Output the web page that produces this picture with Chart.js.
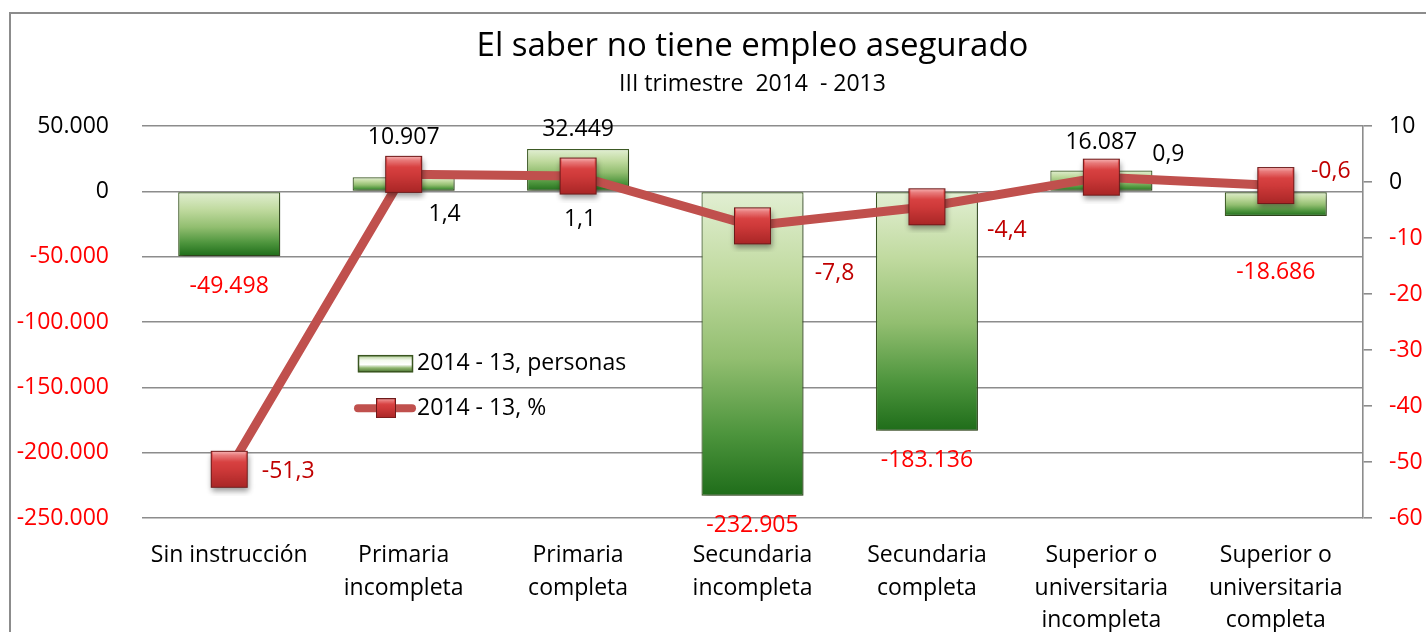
<!DOCTYPE html>
<html><head><meta charset="utf-8">
<script src="https://cdn.jsdelivr.net/npm/chart.js@4/dist/chart.umd.min.js"></script>
<style>html,body{margin:0;padding:0;background:#fff;overflow:hidden}
#wrap{position:relative;width:1426px;height:632px;background:#fff}
</style></head><body><div id="wrap"><canvas id="c" width="1426" height="632"></canvas></div>
<script>
const titleText = "El saber no tiene empleo asegurado";
const subtitleText = "III trimestre  2014  - 2013";
const categories = [["Sin instrucción"],["Primaria","incompleta"],["Primaria","completa"],["Secundaria","incompleta"],["Secundaria","completa"],["Superior o","universitaria","incompleta"],["Superior o","universitaria","completa"]];
const personas = [-49498, 10907, 32449, -232905, -183136, 16087, -18686];
const porcentaje = [-51.3, 1.4, 1.1, -7.8, -4.4, 0.9, -0.6];
const leftTicks = [50000, 0, -50000, -100000, -150000, -200000, -250000];
const rightTicks = [10, 0, -10, -20, -30, -40, -50, -60];
const seriesNames = ["2014 - 13, personas", "2014 - 13, %"];

const FONT = "'Open Sans', sans-serif";
function fmtThousands(v){
  const s = Math.abs(Math.round(v)).toString().replace(/\B(?=(\d{3})+(?!\d))/g, ".");
  return (v < 0 ? "-" : "") + s;
}
function fmtPct(v){ return v.toFixed(1).replace(".", ","); }

function makeMarker(side, pad){
  const c = document.createElement('canvas');
  c.width = side + pad*2; c.height = side + pad*2;
  const g = c.getContext('2d');
  const x = pad, y = pad;
  g.save();
  g.shadowColor = 'rgba(0,0,0,0.4)'; g.shadowBlur = pad*0.7; g.shadowOffsetX = 1; g.shadowOffsetY = pad*0.45;
  g.fillStyle = '#b83030'; g.fillRect(x, y, side, side);
  g.restore();
  const gr = g.createLinearGradient(0, y, 0, y+side);
  gr.addColorStop(0, '#f27a7a'); gr.addColorStop(0.12, '#e04848'); gr.addColorStop(0.5, '#cf3a3a'); gr.addColorStop(1, '#a82626');
  g.fillStyle = gr; g.fillRect(x, y, side, side);
  const hl = g.createLinearGradient(0, y, 0, y+side*0.3);
  hl.addColorStop(0, 'rgba(255,255,255,0.45)'); hl.addColorStop(1, 'rgba(255,255,255,0)');
  g.fillStyle = hl; g.fillRect(x+2, y+1, side-4, side*0.3);
  g.strokeStyle = '#6e1a1a'; g.lineWidth = 1; g.strokeRect(x+0.5, y+0.5, side-1, side-1);
  return c;
}
const markerBig = makeMarker(37, 8);
const markerSmall = makeMarker(20, 0);

const barLabelOffsets = {default:{above:20, below:30}, 1:{above:40}, 5:{above:28}, 6:{below:57}};
const lineLabelOffsets = [[59,2],[41,40],[2,43],[82,48],[80,24],[67,-23],[55,-14]];

const framePlugin = {
  id:'frame',
  beforeDraw(chart){
    const ctx = chart.ctx; ctx.save();
    ctx.fillStyle = '#fff'; ctx.fillRect(0,0,chart.width,chart.height);
    ctx.strokeStyle = '#8c8c8c'; ctx.lineWidth = 2;
    ctx.strokeRect(10, 13, 3000, 3000);
    ctx.restore();
  }
};
const shadowPlugin = {
  id:'barShadow',
  beforeDatasetDraw(chart, args){
    if (args.meta.type === 'bar'){
      const ctx = chart.ctx; ctx.save();
      ctx.shadowColor = 'rgba(0,0,0,0.35)'; ctx.shadowBlur = 5; ctx.shadowOffsetX = 2; ctx.shadowOffsetY = 3;
    }
  },
  afterDatasetDraw(chart, args){
    if (args.meta.type === 'bar') chart.ctx.restore();
  }
};
const labelsPlugin = {
  id:'valueLabels',
  afterDatasetsDraw(chart){
    const ctx = chart.ctx;
    ctx.save();
    ctx.font = "23px " + FONT;
    ctx.textAlign = 'center'; ctx.textBaseline = 'middle';
    const bm = chart.getDatasetMeta(1);
    bm.data.forEach((el, i) => {
      const v = personas[i];
      const o = Object.assign({}, barLabelOffsets.default, barLabelOffsets[i] || {});
      const y = v >= 0 ? el.y - o.above : el.y + o.below;
      ctx.fillStyle = v >= 0 ? '#000' : '#ff0000';
      ctx.fillText(fmtThousands(v), el.x, y);
    });
    const lm = chart.getDatasetMeta(0);
    lm.data.forEach((el, i) => {
      const v = porcentaje[i];
      const [dx, dy] = lineLabelOffsets[i];
      const t = fmtPct(v);
      const w = ctx.measureText(t).width;
      const x = el.x + dx, y = el.y + dy;
      ctx.fillStyle = '#fff';
      ctx.fillRect(x - w/2 - 8, y - 13, w + 16, 26);
      ctx.fillStyle = v >= 0 ? '#000' : '#c00000';
      ctx.fillText(t, x, y);
    });
    ctx.restore();
  }
};
const legendPlugin = {
  id:'innerLegend',
  afterDraw(chart){
    const ctx = chart.ctx, a = chart.chartArea;
    const x0 = a.left + 216, y0 = a.top + 229;
    ctx.save();
    const g = ctx.createLinearGradient(0, y0, 0, y0+17);
    g.addColorStop(0, '#a9c98c'); g.addColorStop(0.3, '#f4f9ee'); g.addColorStop(0.55, '#ffffff'); g.addColorStop(0.75, '#8fb56f'); g.addColorStop(1, '#4a7430');
    ctx.fillStyle = g; ctx.fillRect(x0, y0, 55, 17);
    ctx.strokeStyle = '#3a5520'; ctx.lineWidth = 1.5; ctx.strokeRect(x0+0.5, y0+0.5, 54, 16);
    const ly = y0 + 53;
    ctx.strokeStyle = '#c0504d'; ctx.lineWidth = 8; ctx.lineCap = 'round';
    ctx.beginPath(); ctx.moveTo(x0, ly); ctx.lineTo(x0 + 54, ly); ctx.stroke();
    ctx.drawImage(markerSmall, x0 + 28 - 10, ly - 10);
    ctx.font = "23px " + FONT; ctx.fillStyle = '#000'; ctx.textBaseline = 'middle'; ctx.textAlign = 'left';
    ctx.fillText(seriesNames[0], x0 + 59, y0 + 8);
    ctx.fillText(seriesNames[1], x0 + 59, ly);
    ctx.restore();
  }
};

Chart.defaults.font.family = FONT;
new Chart(document.getElementById('c'), {
  type:'bar',
  data:{
    labels: categories,
    datasets:[
      {
        type:'line', label: seriesNames[1], data: porcentaje, yAxisID:'y1', order:0,
        borderColor:'#c0504d', borderWidth:9, tension:0, fill:false,
        pointStyle: markerBig, pointRadius: 20, pointHoverRadius: 20,
        borderJoinStyle:'round', borderCapStyle:'round'
      },
      {
        type:'bar', label: seriesNames[0], data: personas, yAxisID:'y', order:1,
        categoryPercentage: 1, barPercentage: 0.585,
        borderColor:'#3e5c25', borderWidth:1.2, borderSkipped:false,
        backgroundColor: (c) => {
          const chart = c.chart, area = chart.chartArea;
          if (!area || c.type !== 'data' || !chart.scales.y) return '#7db35a';
          const y0 = chart.scales.y.getPixelForValue(0), y1 = chart.scales.y.getPixelForValue(c.raw);
          const top = Math.min(y0,y1), bot = Math.max(y0,y1);
          const g = chart.ctx.createLinearGradient(0, top, 0, bot);
          g.addColorStop(0, '#e2efd3'); g.addColorStop(0.28, '#c0da9f'); g.addColorStop(0.55, '#92be70'); g.addColorStop(0.8, '#4c943c'); g.addColorStop(1, '#1f6d1a');
          return g;
        }
      }
    ]
  },
  options:{
    responsive:false, animation:false, devicePixelRatio:1,
    layout:{padding:0},
    plugins:{
      legend:{display:false}, tooltip:{enabled:false},
      title:{display:true, text:titleText, fullSize:false, color:'#000', font:{size:33, weight:'normal', lineHeight:1.2}, padding:{top:27, bottom:0}},
      subtitle:{display:true, text:subtitleText, fullSize:false, color:'#000', font:{size:23, weight:'normal', lineHeight:1.2}, padding:{top:4, bottom:28}}
    },
    scales:{
      x:{
        grid:{display:false}, border:{display:false},
        ticks:{color:'#000', font:{size:23, lineHeight:1.42}, padding:13, maxRotation:0, autoSkip:false},
        afterFit(s){ s.height = 114; }
      },
      y:{
        position:'left', min:-250000, max:50000,
        grid:{color:'#8c8c8c', lineWidth:1.6, drawTicks:false}, border:{display:false},
        afterBuildTicks(s){ s.ticks = leftTicks.map(v => ({value:v})); },
        ticks:{font:{size:23}, padding:33, color:(c)=> c.tick.value < 0 ? '#ff0000' : '#000', callback:(v)=>fmtThousands(v)},
        afterFit(s){ s.width = 142; }
      },
      y1:{
        position:'right', min:-60, max:10,
        grid:{drawOnChartArea:false, drawTicks:true, tickLength:9, color:'#8c8c8c', lineWidth:1.6},
        border:{display:true, color:'#8c8c8c', width:1.6},
        afterBuildTicks(s){ s.ticks = rightTicks.map(v => ({value:v})); },
        ticks:{font:{size:23}, padding:17, color:(c)=> c.tick.value < 0 ? '#ff0000' : '#000', callback:(v)=>String(v)},
        afterFit(s){ s.width = 63; }
      }
    }
  },
  plugins:[framePlugin, shadowPlugin, labelsPlugin, legendPlugin]
});
</script></body></html>
